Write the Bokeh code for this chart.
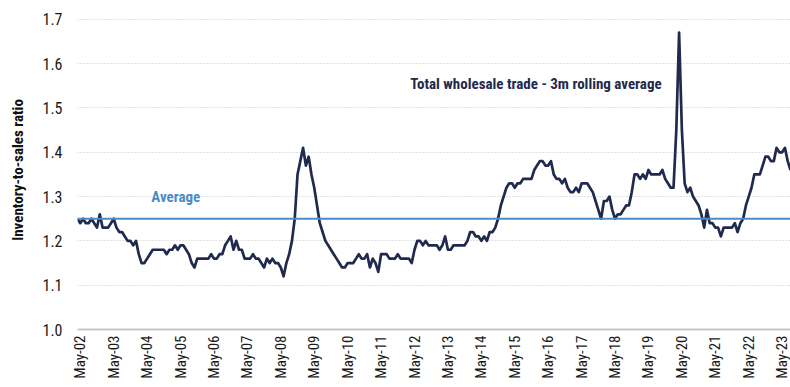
from math import pi
from bokeh.plotting import figure
from bokeh.models import Range1d, FixedTicker, Label, Span
from bokeh.embed import file_html
from bokeh.resources import INLINE

# Monthly inventory-to-sales ratio (3m rolling average), Apr-2002 .. Aug-2023
ratio = [
    1.25, 1.24, 1.25, 1.24, 1.24, 1.25, 1.24, 1.23, 1.26, 1.23, 1.23, 1.23,  # Apr02-Mar03
    1.24, 1.25, 1.23, 1.22, 1.22, 1.21, 1.20, 1.20, 1.19, 1.20, 1.17, 1.15,  # Apr03-Mar04
    1.15, 1.16, 1.17, 1.18, 1.18, 1.18, 1.18, 1.18, 1.17, 1.18, 1.18, 1.19,  # Apr04-Mar05
    1.18, 1.19, 1.19, 1.18, 1.17, 1.15, 1.14, 1.16, 1.16, 1.16, 1.16, 1.16,  # Apr05-Mar06
    1.17, 1.16, 1.16, 1.17, 1.17, 1.19, 1.20, 1.21, 1.18, 1.20, 1.18, 1.18,  # Apr06-Mar07
    1.16, 1.16, 1.16, 1.17, 1.16, 1.16, 1.15, 1.14, 1.16, 1.15, 1.16, 1.15,  # Apr07-Mar08
    1.15, 1.14, 1.12, 1.15, 1.17, 1.20, 1.25, 1.35, 1.38, 1.41, 1.37, 1.39,  # Apr08-Mar09
    1.35, 1.32, 1.28, 1.24, 1.22, 1.20, 1.19, 1.18, 1.17, 1.16, 1.15, 1.14,  # Apr09-Mar10
    1.14, 1.15, 1.15, 1.15, 1.16, 1.17, 1.16, 1.16, 1.17, 1.14, 1.16, 1.15,  # Apr10-Mar11
    1.13, 1.17, 1.17, 1.17, 1.16, 1.16, 1.16, 1.17, 1.16, 1.16, 1.16, 1.16,  # Apr11-Mar12
    1.15, 1.18, 1.20, 1.20, 1.19, 1.20, 1.19, 1.19, 1.19, 1.19, 1.18, 1.19,  # Apr12-Mar13
    1.21, 1.18, 1.18, 1.19, 1.19, 1.19, 1.19, 1.19, 1.20, 1.22, 1.22, 1.21,  # Apr13-Mar14
    1.21, 1.20, 1.21, 1.20, 1.22, 1.22, 1.23, 1.25, 1.28, 1.30, 1.32, 1.33,  # Apr14-Mar15
    1.33, 1.32, 1.33, 1.33, 1.34, 1.34, 1.34, 1.34, 1.36, 1.37, 1.38, 1.38,  # Apr15-Mar16
    1.37, 1.37, 1.38, 1.35, 1.34, 1.34, 1.33, 1.34, 1.32, 1.31, 1.31, 1.32,  # Apr16-Mar17
    1.31, 1.33, 1.33, 1.33, 1.32, 1.31, 1.29, 1.27, 1.25, 1.29, 1.29, 1.30,  # Apr17-Mar18
    1.27, 1.25, 1.26, 1.26, 1.27, 1.28, 1.28, 1.31, 1.35, 1.35, 1.34, 1.35,  # Apr18-Mar19
    1.34, 1.36, 1.35, 1.35, 1.35, 1.35, 1.36, 1.34, 1.33, 1.32, 1.32, 1.45,  # Apr19-Mar20
    1.67, 1.45, 1.33, 1.31, 1.32, 1.30, 1.29, 1.28, 1.26, 1.23, 1.27, 1.24,  # Apr20-Mar21
    1.24, 1.23, 1.23, 1.21, 1.23, 1.23, 1.23, 1.23, 1.24, 1.22, 1.24, 1.25,  # Apr21-Mar22
    1.28, 1.30, 1.32, 1.35, 1.35, 1.35, 1.37, 1.39, 1.39, 1.38, 1.38, 1.41,  # Apr22-Mar23
    1.40, 1.40, 1.41, 1.38, 1.36,                                            # Apr23-Aug23
]
average = 1.25
years = list(range(2, 24))
tick_labels = ["May-%02d" % y for y in years]
y_ticks = [1.0, 1.1, 1.2, 1.3, 1.4, 1.5, 1.6, 1.7]

months = list(range(len(ratio)))
tick_pos = [1 + 12 * i for i in range(len(years))]

NAVY = "#1f2a4e"
BLUE = "#4a8cc8"
FONT = "Liberation Sans Narrow, Roboto Condensed, Roboto, sans-serif"

p = figure(width=790, height=387, output_backend="svg", toolbar_location=None,
           x_range=Range1d(0, 256), y_range=Range1d(1.0, 1.72),
           min_border_left=77, min_border_right=0, min_border_top=10,
           min_border_bottom=58)
p.outline_line_color = None
p.background_fill_color = "white"
p.border_fill_color = "white"

p.line(months, ratio, line_color=NAVY, line_width=2.7, line_join="round")
p.add_layout(Span(location=average, dimension="width", line_color=BLUE, line_width=2))

p.add_layout(Label(x=26.5, y=1.30, text="Average", text_color=BLUE,
                   text_font=FONT, text_font_style="bold", text_font_size="15px",
                   text_baseline="middle", text_align="left",
                   background_fill_color="white"))
p.add_layout(Label(x=119.5, y=1.555, text="Total wholesale trade - 3m rolling average",
                   text_color=NAVY, text_font=FONT, text_font_style="bold",
                   text_font_size="15px", text_baseline="middle", text_align="left"))

# axes
p.xaxis.ticker = FixedTicker(ticks=tick_pos)
p.xaxis.major_label_overrides = {t: l for t, l in zip(tick_pos, tick_labels)}
p.xaxis.major_label_orientation = pi / 2
p.xaxis.axis_line_color = "#c8c8c8"
p.xaxis.axis_line_width = 2
p.xaxis.major_tick_line_color = None
p.xaxis.minor_tick_line_color = None
p.xaxis.major_tick_out = 0
p.xaxis.major_label_standoff = 6
p.xaxis.major_label_text_font = FONT
p.xaxis.major_label_text_font_size = "15px"
p.xaxis.major_label_text_color = "#1a1a1a"

p.yaxis.ticker = FixedTicker(ticks=y_ticks)
p.yaxis.major_label_overrides = {v: "%.1f" % v for v in y_ticks}
p.yaxis.axis_line_color = None
p.yaxis.major_tick_line_color = None
p.yaxis.minor_tick_line_color = None
p.yaxis.major_tick_out = 0
p.yaxis.major_label_standoff = 15
p.yaxis.major_label_text_font = FONT
p.yaxis.major_label_text_font_size = "16px"
p.yaxis.major_label_text_color = "#1a1a1a"
p.yaxis.axis_label = "Inventory-to-sales ratio"
p.yaxis.axis_label_text_font = FONT
p.yaxis.axis_label_text_font_style = "bold"
p.yaxis.axis_label_text_font_size = "15px"
p.yaxis.axis_label_text_color = "#111111"
p.yaxis.axis_label_standoff = 12

p.xgrid.grid_line_color = None
p.ygrid.grid_line_color = "#c4c4c4"
p.ygrid.grid_line_dash = "1 2"
p.ygrid.grid_line_width = 1

open("out.html", "w").write(file_html(p, INLINE))
